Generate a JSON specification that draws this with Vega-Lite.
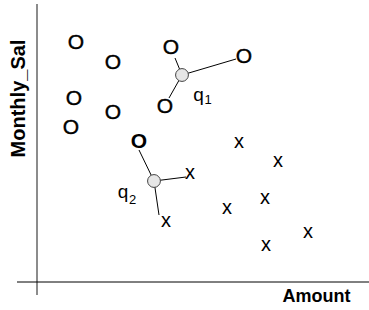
{
  "$schema": "https://vega.github.io/schema/vega-lite/v6.json",
  "width": 369,
  "height": 310,
  "autosize": "none",
  "padding": 0,
  "background": "white",
  "config": {"view": {"stroke": null}},
  "datasets": {
    "os": [
      {"Amount": 39, "Monthly_Sal": 239, "cls": "O"},
      {"Amount": 76, "Monthly_Sal": 219, "cls": "O"},
      {"Amount": 134, "Monthly_Sal": 234, "cls": "O"},
      {"Amount": 207, "Monthly_Sal": 225, "cls": "O"},
      {"Amount": 37, "Monthly_Sal": 183, "cls": "O"},
      {"Amount": 76, "Monthly_Sal": 169, "cls": "O"},
      {"Amount": 128, "Monthly_Sal": 175, "cls": "O"},
      {"Amount": 34, "Monthly_Sal": 154, "cls": "O"}
    ],
    "xs": [
      {"Amount": 202, "Monthly_Sal": 140, "cls": "x"},
      {"Amount": 241, "Monthly_Sal": 121, "cls": "x"},
      {"Amount": 153, "Monthly_Sal": 109, "cls": "x"},
      {"Amount": 129, "Monthly_Sal": 61, "cls": "x"},
      {"Amount": 190, "Monthly_Sal": 74, "cls": "x"},
      {"Amount": 228, "Monthly_Sal": 84, "cls": "x"},
      {"Amount": 271, "Monthly_Sal": 50, "cls": "x"},
      {"Amount": 229, "Monthly_Sal": 37, "cls": "x"}
    ],
    "bold": [
      {"Amount": 102, "Monthly_Sal": 140, "cls": "O"}
    ],
    "segs": [
      {"seg": "a", "Amount": 145, "Monthly_Sal": 207},
      {"seg": "a", "Amount": 138, "Monthly_Sal": 224},
      {"seg": "b", "Amount": 145, "Monthly_Sal": 207},
      {"seg": "b", "Amount": 199, "Monthly_Sal": 223},
      {"seg": "c", "Amount": 145, "Monthly_Sal": 207},
      {"seg": "c", "Amount": 132, "Monthly_Sal": 184},
      {"seg": "d", "Amount": 117, "Monthly_Sal": 101},
      {"seg": "d", "Amount": 102, "Monthly_Sal": 132},
      {"seg": "e", "Amount": 117, "Monthly_Sal": 101},
      {"seg": "e", "Amount": 149, "Monthly_Sal": 105},
      {"seg": "f", "Amount": 117, "Monthly_Sal": 101},
      {"seg": "f", "Amount": 122, "Monthly_Sal": 67}
    ],
    "queries": [
      {"Amount": 145, "Monthly_Sal": 207, "q": "q1"},
      {"Amount": 117, "Monthly_Sal": 101, "q": "q2"}
    ],
    "qlabel": [
      {"Amount": 161.5, "Monthly_Sal": 181, "t": "q"},
      {"Amount": 86, "Monthly_Sal": 84, "t": "q"}
    ],
    "qsub": [
      {"Amount": 171, "Monthly_Sal": 178, "t": "1"},
      {"Amount": 95.5, "Monthly_Sal": 78, "t": "2"}
    ],
    "vaxis": [{"Amount": 0, "Monthly_Sal": -13, "Amount2": 0, "Monthly_Sal2": 278}],
    "haxis": [{"Amount": -20, "Monthly_Sal": 0, "Amount2": 332, "Monthly_Sal2": 0}]
  },
  "encoding": {
    "x": {
      "field": "Amount", "type": "quantitative",
      "scale": {"domain": [-37, 332], "nice": false, "zero": false},
      "axis": {
        "domain": false, "ticks": false, "labels": false, "grid": false,
        "title": "Amount", "titleX": 316, "titleY": -14,
        "titleAlign": "center", "titleBaseline": "middle",
        "titleFont": "Liberation Sans", "titleFontSize": 18, "titleFontWeight": "bold", "titleColor": "black"
      }
    },
    "y": {
      "field": "Monthly_Sal", "type": "quantitative",
      "scale": {"domain": [-28, 282], "nice": false, "zero": false},
      "axis": {
        "domain": false, "ticks": false, "labels": false, "grid": false,
        "title": "Monthly_Sal", "titleX": 18, "titleY": 98, "titleAngle": -90,
        "titleAlign": "center", "titleBaseline": "middle",
        "titleFont": "Liberation Sans", "titleFontSize": 20, "titleFontWeight": "bold", "titleColor": "black"
      }
    }
  },
  "layer": [
    {
      "data": {"name": "vaxis"},
      "mark": {"type": "rule", "color": "#666666", "strokeWidth": 1.5},
      "encoding": {"x2": {"field": "Amount2"}, "y2": {"field": "Monthly_Sal2"}}
    },
    {
      "data": {"name": "haxis"},
      "mark": {"type": "rule", "color": "black", "strokeWidth": 1},
      "encoding": {"x2": {"field": "Amount2"}, "y2": {"field": "Monthly_Sal2"}}
    },
    {
      "data": {"name": "segs"},
      "mark": {"type": "line", "color": "black", "strokeWidth": 1},
      "encoding": {"detail": {"field": "seg", "type": "nominal"}}
    },
    {
      "data": {"name": "os"},
      "mark": {"type": "text", "font": "Liberation Sans", "fontSize": 21, "align": "center", "baseline": "middle", "color": "black", "stroke": "black", "strokeWidth": 0.4},
      "encoding": {"text": {"field": "cls"}}
    },
    {
      "data": {"name": "xs"},
      "mark": {"type": "text", "font": "Liberation Sans", "fontSize": 20, "align": "center", "baseline": "middle", "color": "black"},
      "encoding": {"text": {"field": "cls"}}
    },
    {
      "data": {"name": "bold"},
      "mark": {"type": "text", "font": "Liberation Sans", "fontSize": 21, "fontWeight": "bold", "align": "center", "baseline": "middle", "color": "black"},
      "encoding": {"text": {"field": "cls"}}
    },
    {
      "data": {"name": "queries"},
      "mark": {"type": "point", "shape": "circle", "filled": true, "size": 165, "fill": "#e6e6e6", "stroke": "#444444", "strokeWidth": 1, "opacity": 1}
    },
    {
      "data": {"name": "qlabel"},
      "mark": {"type": "text", "font": "Liberation Sans", "fontSize": 19, "align": "center", "baseline": "alphabetic", "color": "black"},
      "encoding": {"text": {"field": "t"}}
    },
    {
      "data": {"name": "qsub"},
      "mark": {"type": "text", "font": "Liberation Sans", "fontSize": 13, "align": "center", "baseline": "alphabetic", "color": "black"},
      "encoding": {"text": {"field": "t"}}
    }
  ]
}
